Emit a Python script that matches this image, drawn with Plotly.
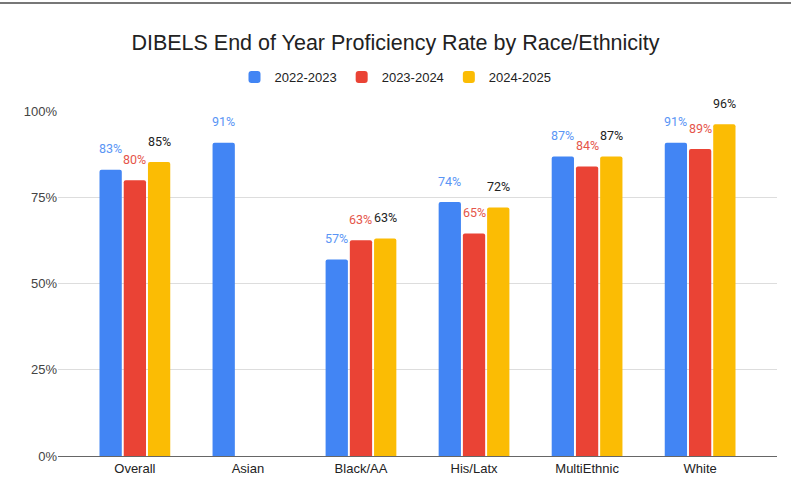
import plotly.graph_objects as go

categories = ["Overall", "Asian", "Black/AA", "His/Latx", "MultiEthnic", "White"]
series_names = ["2022-2023", "2023-2024", "2024-2025"]
values_2022_2023 = [0.831, 0.909, 0.570, 0.737, 0.869, 0.909]
values_2023_2024 = [0.800, None, 0.626, 0.646, 0.840, 0.891]
values_2024_2025 = [0.853, None, 0.631, 0.721, 0.869, 0.963]
y_ticks = [0, 0.25, 0.5, 0.75, 1.0]
y_tick_labels = ["0%", "25%", "50%", "75%", "100%"]

all_values = [values_2022_2023, values_2023_2024, values_2024_2025]
bar_colors = ["#4285F4", "#EA4335", "#FBBC04"]
label_colors = ["#5A95F5", "#E5554A", "#222222"]

W, H = 791, 498
m_l, m_r, m_t, m_b = 58, 14, 110, 42
plot_h = H - m_t - m_b
plot_w = W - m_l - m_r

fig = go.Figure()
for name, vals, col in zip(series_names, all_values, bar_colors):
    fig.add_trace(go.Bar(
        x=categories, y=vals, name=name,
        marker=dict(color=col, line=dict(width=0), cornerradius=2),
        hoverinfo="x+y",
    ))

x_range = [-0.68, 5.68]
cat_px = plot_w / (x_range[1] - x_range[0])
bargap = 0.357
slot_px = cat_px * (1 - bargap) / 3

annotations = []
for i, (vals, lc) in enumerate(zip(all_values, label_colors)):
    for c, v in zip(categories, vals):
        if v is None:
            continue
        annotations.append(dict(
            x=c, y=v, xref="x", yref="y",
            text=f"{round(v * 100)}%",
            showarrow=False,
            xshift=(i - 1) * slot_px,
            yshift=21,
            yanchor="middle",
            font=dict(family="Roboto, Arial, sans-serif", size=12.5, color=lc),
        ))

fig.update_layout(
    width=W, height=H,
    margin=dict(l=m_l, r=m_r, t=m_t, b=m_b),
    paper_bgcolor="white", plot_bgcolor="white",
    barmode="group", bargap=bargap, bargroupgap=0.08,
    title=dict(
        text="DIBELS End of Year Proficiency Rate by Race/Ethnicity",
        x=0.5, xanchor="center", xref="container",
        y=1 - 42 / H, yanchor="middle", yref="container",
        font=dict(family="Liberation Sans, Arial, sans-serif", size=21.5, color="#222222"),
    ),
    legend=dict(
        orientation="h", x=0.5, xanchor="center", xref="container",
        y=1 - 77 / H, yanchor="middle", yref="container",
        font=dict(family="Liberation Sans, Arial, sans-serif", size=13, color="#222222"),
        itemclick=False, itemwidth=30,
    ),
    xaxis=dict(
        type="category", range=x_range,
        showline=True, linecolor="#666666", linewidth=1,
        showgrid=False, ticks="",
        tickfont=dict(family="Liberation Sans, Arial, sans-serif", size=13, color="#222222"),
    ),
    yaxis=dict(
        range=[0, 1], tickvals=y_ticks, ticktext=y_tick_labels,
        showgrid=True, gridcolor="#DDDDDD", gridwidth=1,
        zeroline=False, showline=False, ticks="",
        tickfont=dict(family="Liberation Sans, Arial, sans-serif", size=13, color="#444444"),
    ),
    annotations=annotations,
    font=dict(family="Liberation Sans, Arial, sans-serif"),
)

# top border line of the chart frame
fig.add_shape(
    type="line", xref="paper", yref="paper",
    x0=-m_l / plot_w, x1=1 + m_r / plot_w,
    y0=1 + (m_t - 1) / plot_h, y1=1 + (m_t - 1) / plot_h,
    line=dict(color="#777777", width=2),
)

fig.write_html(
    "out.html",
    config={"displayModeBar": False},
    post_script="document.body.style.margin='0';",
)
